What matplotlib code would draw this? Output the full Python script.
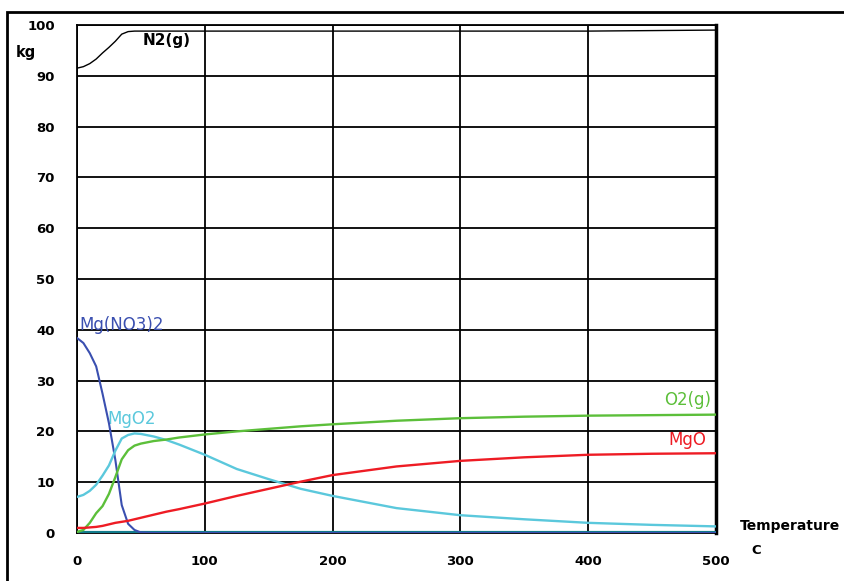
import matplotlib.pyplot as plt
from matplotlib.patches import Rectangle

# Temperature grid (C) and species masses (kg)
temp = [0, 5, 10, 15, 20, 25, 30, 35, 40, 45, 50, 60, 70, 80, 100,
        125, 150, 175, 200, 250, 300, 350, 400, 450, 500]

n2 = [91.5, 91.8, 92.4, 93.3, 94.5, 95.6, 96.8, 98.2, 98.7, 98.8, 98.8, 98.8, 98.8,
      98.8, 98.8, 98.8, 98.8, 98.8, 98.8, 98.8, 98.8, 98.8, 98.8, 98.9, 99.0]
mgno32 = [38.4, 37.4, 35.4, 32.8, 27.4, 21.6, 14.4, 5.5, 1.8, 0.6, 0.1, 0, 0,
          0, 0, 0, 0, 0, 0, 0, 0, 0, 0, 0, 0]
mgo2 = [7.1, 7.5, 8.3, 9.5, 11.3, 13.3, 16.2, 18.6, 19.3, 19.6, 19.5, 19.0, 18.3,
        17.4, 15.4, 12.6, 10.6, 8.7, 7.3, 4.9, 3.5, 2.7, 2.0, 1.6, 1.3]
o2 = [0.2, 0.6, 2.0, 3.9, 5.3, 7.7, 11.0, 14.5, 16.3, 17.2, 17.6, 18.1, 18.4,
      18.8, 19.4, 20.0, 20.5, 21.0, 21.4, 22.1, 22.6, 22.9, 23.1, 23.2, 23.3]
mgo = [1.0, 1.0, 1.1, 1.2, 1.4, 1.7, 2.0, 2.2, 2.4, 2.7, 3.0, 3.6, 4.2,
       4.7, 5.8, 7.3, 8.7, 10.1, 11.4, 13.1, 14.2, 14.9, 15.4, 15.6, 15.7]
other = [0] * len(temp)

x_ticks = [0, 100, 200, 300, 400, 500]
y_ticks = [0, 10, 20, 30, 40, 50, 60, 70, 80, 90, 100]

fig = plt.figure(figsize=(8.44, 5.81), dpi=100)
ax = fig.add_axes([77 / 844, 48 / 581, 639 / 844, 508 / 581])

# outer frame of the picture
fig.add_artist(Rectangle((7 / 844, -0.1), 1.2, 1.1 - 12 / 581, transform=fig.transFigure,
                         fill=False, edgecolor='black', linewidth=2))

ax.plot(temp, other, color='#127c8c', linewidth=3, zorder=3)
ax.plot(temp, n2, color='black', linewidth=1, zorder=4)
ax.plot(temp, mgno32, color='#3a4fb0', linewidth=1.5, zorder=4)
ax.plot(temp, mgo2, color='#5bc8dc', linewidth=1.7, zorder=4)
ax.plot(temp, o2, color='#5cbf3a', linewidth=1.7, zorder=4)
ax.plot(temp, mgo, color='#ee1c24', linewidth=1.7, zorder=4)

ax.text(1.5, 40.9, 'Mg(NO3)2', color='#3a4fb0', fontsize=12, ha='left', va='center')
ax.text(23.5, 22.4, 'MgO2', color='#5bc8dc', fontsize=12, ha='left', va='center')
ax.text(51, 96.9, 'N2(g)', color='black', fontsize=11, fontweight='bold', ha='left', va='center')
ax.text(496, 26.2, 'O2(g)', color='#5cbf3a', fontsize=12, ha='right', va='center')
ax.text(492, 18.3, 'MgO', color='#ee1c24', fontsize=12, ha='right', va='center')

ax.set_xlim(0, 500)
ax.set_ylim(0, 100)
ax.set_xticks(x_ticks)
ax.set_yticks(y_ticks)
ax.tick_params(length=0, labelsize=9.5)
ax.tick_params(axis='y', pad=16)
ax.tick_params(axis='x', pad=16)
for lab in ax.get_xticklabels() + ax.get_yticklabels():
    lab.set_fontweight('bold')
ax.grid(True, color='black', linewidth=1.3)
ax.set_axisbelow(True)
for side in ['left', 'top', 'bottom']:
    ax.spines[side].set_linewidth(1.3)
ax.spines['right'].set_linewidth(2.5)

fig.text(26 / 844, 1 - 53 / 581, 'kg', fontsize=10.5, fontweight='bold', ha='center', va='center')
fig.text(740 / 844, 1 - 526 / 581, 'Temperature', fontsize=10, fontweight='bold', ha='left', va='center')
fig.text(756 / 844, 1 - 551 / 581, 'C', fontsize=9.5, fontweight='bold', ha='center', va='center')

plt.savefig('out.png', dpi=100)
